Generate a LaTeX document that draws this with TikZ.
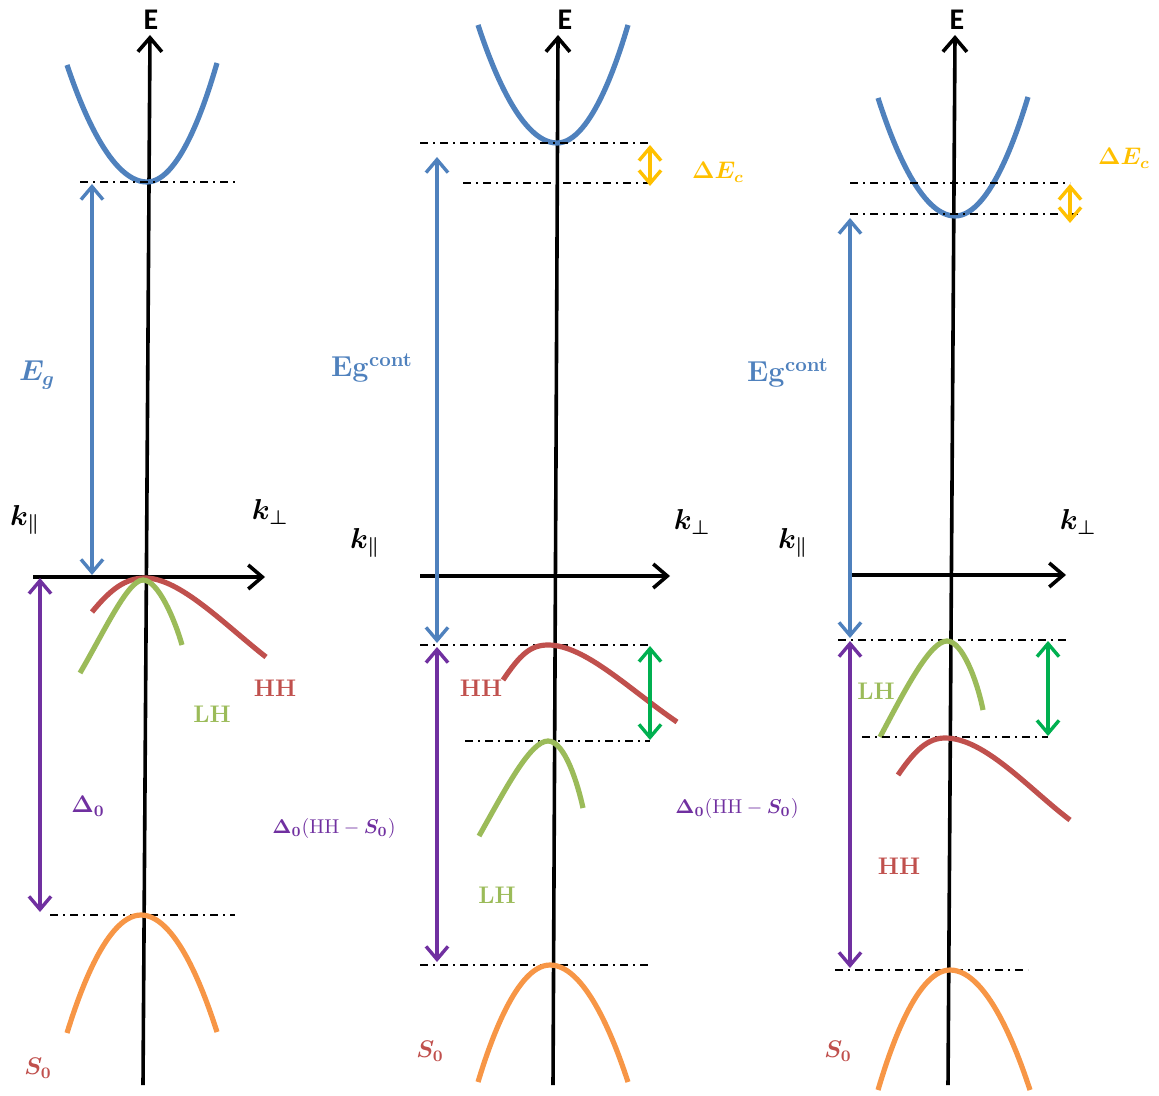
\documentclass[tikz,border=0pt]{standalone}
\usepackage{amsmath}
\usepackage{fontspec}
\newfontfamily\axisfont{Carlito}
\usetikzlibrary{arrows.meta}
\definecolor{cbblue}{RGB}{79,129,189}
\definecolor{hhred}{RGB}{192,80,77}
\definecolor{lhgreen}{RGB}{155,187,89}
\definecolor{soorange}{RGB}{247,150,70}
\definecolor{dpurple}{RGB}{112,48,160}
\definecolor{ecyellow}{RGB}{255,192,0}
\definecolor{gapgreen}{RGB}{0,176,80}
\begin{document}
\begin{tikzpicture}[x=0.5pt,y=-0.5pt,
  axis/.style={line width=1.8pt,-{Straight Barb[length=7pt,width=12pt]}},
  band/.style={line width=2.6pt},
  level/.style={line width=0.8pt,dash pattern=on 4pt off 2.5pt on 1pt off 2.5pt},
  gap/.style={line width=1.7pt,{Straight Barb[length=6.5pt,width=11pt]}-{Straight Barb[length=6.5pt,width=11pt]}},
  lbl/.style={font=\large\bfseries\boldmath},
  elbl/.style={font=\axisfont\bfseries\fontsize{15}{17}\selectfont}]
\useasboundingbox (0,0) rectangle (1159,1095);

% first panel
\coordinate (ea1) at (143,1085);
\coordinate (eb1) at (150,35);
\coordinate (ka1) at (33,577);
\coordinate (kb1) at (265,577);
\draw[axis] (ea1) -- (eb1);
\draw[axis] (ka1) -- (kb1);
\node[elbl] (E1) at (151,20) {E};
\node[lbl,font=\Large\boldmath] (kpar1) at (25,520) {$k_{\|}$};
\node[lbl,font=\Large\boldmath] (kperp1) at (270,512) {$k_{\perp}$};
\draw[band,cbblue] (67,65) parabola bend (147,182) (217,63);
\draw[level] (80,182) -- (237,182);
\coordinate (ga1) at (92,184);
\coordinate (gb1) at (92,575);
\draw[gap,cbblue] (ga1) -- (gb1);
\node[lbl,text=cbblue,font=\Large\boldmath] (Eg1) at (37,375) {$E_g$};
\draw[band,hhred] (92,612) .. controls (110,590) and (125,578) .. (145,578) .. controls (180,578) and (225,625) .. (266,657);
\draw[band,lhgreen] (80,673) .. controls (105,630) and (128,580) .. (143,580) .. controls (158,580) and (175,620) .. (182,645);
\node[lbl,text=hhred] (hh1) at (275,688) {HH};
\node[lbl,text=lhgreen] (lh1) at (212,714) {LH};
\coordinate (da1) at (40,578);
\coordinate (db1) at (40,912);
\draw[gap,dpurple] (da1) -- (db1);
\node[lbl,text=dpurple] (D1) at (88,806) {$\Delta_0$};
\draw[level] (50,915) -- (235,915);
\draw[band,soorange] (67,1033) parabola bend (141,915) (217,1032);
\node[lbl,text=hhred] (so1) at (38,1068) {$S_0$};
\node[text=dpurple] (Dhs1) at (334,828) {$\boldsymbol{\Delta_0}(\mathrm{HH}-\boldsymbol{S_0})$};

% second panel
\coordinate (ea2) at (553,1085);
\coordinate (eb2) at (558,35);
\coordinate (ka2) at (420,576);
\coordinate (kb2) at (670,576);
\draw[axis] (ea2) -- (eb2);
\draw[axis] (ka2) -- (kb2);
\node[elbl] (E2) at (565,20) {E};
\node[lbl,font=\Large\boldmath] (kpar2) at (365,543) {$k_{\|}$};
\node[lbl,font=\Large\boldmath] (kperp2) at (692,522) {$k_{\perp}$};
\draw[band,cbblue] (478,25) parabola bend (557,143) (628,25);
\draw[level] (420,143) -- (650,143);
\draw[level] (463,183) -- (650,183);
\coordinate (ca2) at (650,145);
\coordinate (cb2) at (650,186);
\draw[gap,ecyellow] (ca2) -- (cb2);
\node[lbl,text=ecyellow] (dEc2) at (718,172) {$\Delta E_c$};
\coordinate (ga2) at (437,157);
\coordinate (gb2) at (437,643);
\draw[gap,cbblue] (ga2) -- (gb2);
\node[lbl,text=cbblue,font=\Large\bfseries\boldmath] (Eg2) at (372,368) {$\mathbf{Eg^{cont}}$};
\draw[level] (420,645) -- (650,645);
\draw[band,hhred] (503,680) .. controls (520,655) and (530,645) .. (548,645) .. controls (585,645) and (630,690) .. (677,722);
\node[lbl,text=hhred] (hh2) at (481,688) {HH};
\coordinate (ha2) at (650,646);
\coordinate (hb2) at (650,740);
\draw[gap,gapgreen] (ha2) -- (hb2);
\draw[level] (465,741) -- (650,741);
\draw[band,lhgreen] (479,836) .. controls (505,790) and (530,741) .. (548,741) .. controls (565,741) and (578,785) .. (583,808);
\node[lbl,text=lhgreen] (lh2) at (497,895) {LH};
\coordinate (da2) at (437,647);
\coordinate (db2) at (437,962);
\draw[gap,dpurple] (da2) -- (db2);
\draw[level] (420,965) -- (650,965);
\draw[band,soorange] (478,1082) parabola bend (550,965) (628,1082);
\node[lbl,text=hhred] (so2) at (430,1051) {$S_0$};
\node[text=dpurple] (Dhs2) at (737,808) {$\boldsymbol{\Delta_0}(\mathrm{HH}-\boldsymbol{S_0})$};

% third panel
\coordinate (ea3) at (948,1085);
\coordinate (eb3) at (955,35);
\coordinate (ka3) at (850,575);
\coordinate (kb3) at (1066,575);
\draw[axis] (ea3) -- (eb3);
\draw[axis] (ka3) -- (kb3);
\node[elbl] (E3) at (957,20) {E};
\node[lbl,font=\Large\boldmath] (kpar3) at (793,543) {$k_{\|}$};
\node[lbl,font=\Large\boldmath] (kperp3) at (1078,522) {$k_{\perp}$};
\draw[band,cbblue] (878,98) parabola bend (955,216) (1028,97);
\draw[level] (850,183) -- (1070,183);
\draw[level] (850,214) -- (1080,214);
\coordinate (ca3) at (1070,184);
\coordinate (cb3) at (1070,223);
\draw[gap,ecyellow] (ca3) -- (cb3);
\node[lbl,text=ecyellow] (dEc3) at (1124,158) {$\Delta E_c$};
\coordinate (ga3) at (850,218);
\coordinate (gb3) at (850,638);
\draw[gap,cbblue] (ga3) -- (gb3);
\node[lbl,text=cbblue,font=\Large\bfseries\boldmath] (Eg3) at (788,373) {$\mathbf{Eg^{cont}}$};
\draw[level] (838,640) -- (1066,640);
\draw[band,lhgreen] (880,737) .. controls (905,690) and (930,641) .. (947,641) .. controls (962,641) and (977,680) .. (983,710);
\node[lbl,text=lhgreen] (lh3) at (876,691) {LH};
\coordinate (ha3) at (1048,641);
\coordinate (hb3) at (1048,736);
\draw[gap,gapgreen] (ha3) -- (hb3);
\draw[level] (862,737) -- (1048,737);
\draw[band,hhred] (898,775) .. controls (915,750) and (928,738) .. (945,738) .. controls (985,738) and (1030,790) .. (1070,820);
\node[lbl,text=hhred] (hh3) at (899,866) {HH};
\coordinate (da3) at (850,641);
\coordinate (db3) at (850,968);
\draw[gap,dpurple] (da3) -- (db3);
\draw[level] (835,970) -- (1028,970);
\draw[band,soorange] (878,1090) parabola bend (950,970) (1030,1090);
\node[lbl,text=hhred] (so3) at (838,1051) {$S_0$};
\end{tikzpicture}
\end{document}
